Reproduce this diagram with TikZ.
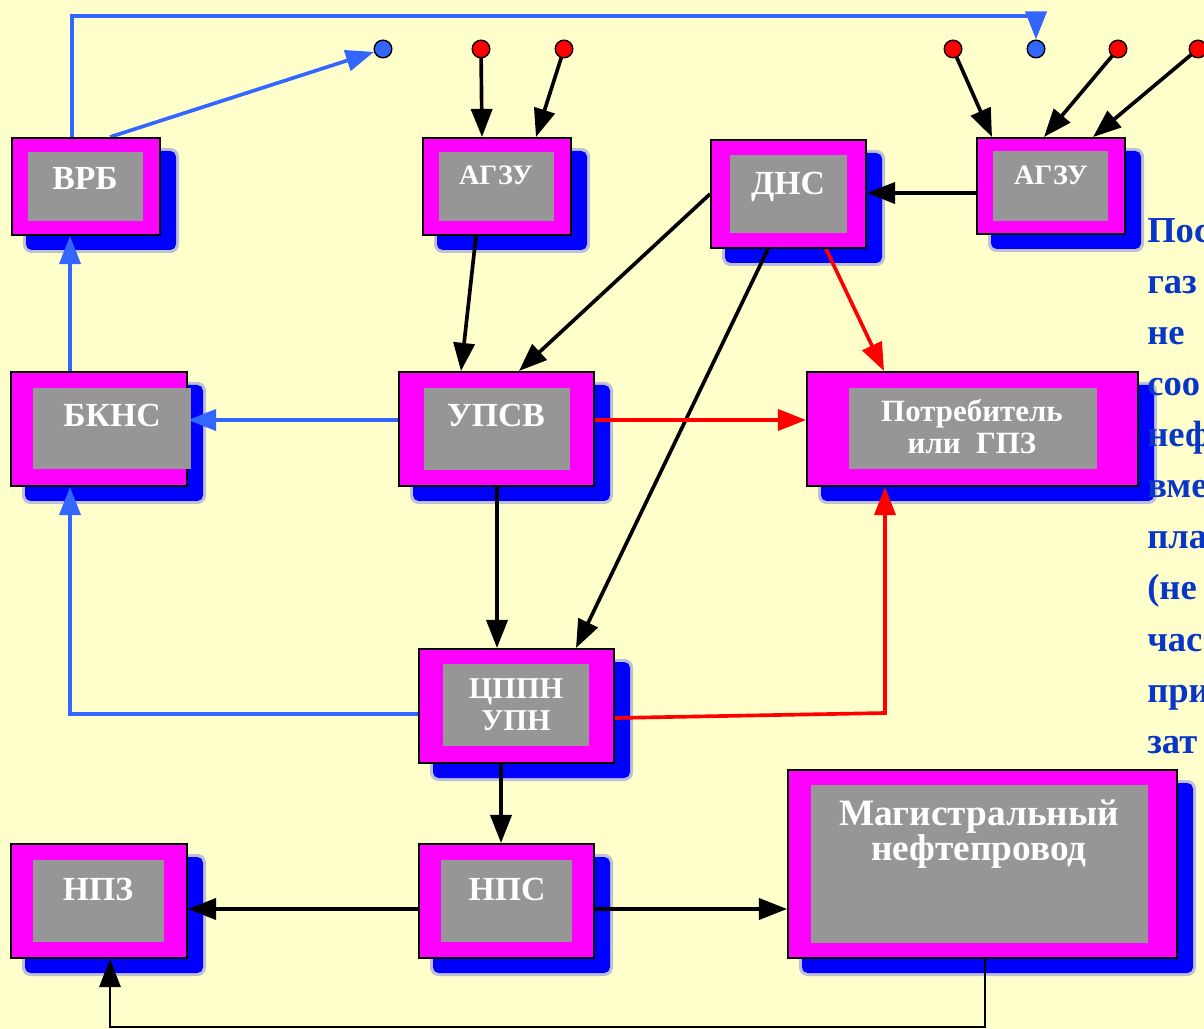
\documentclass[tikz,border=0pt]{standalone}
\usepackage{fontspec}
\setmainfont{Liberation Serif}
\usetikzlibrary{arrows.meta,fit}
\definecolor{bgc}{HTML}{FFFFCC}
\definecolor{magc}{HTML}{FF00FF}
\definecolor{grayc}{HTML}{969696}
\definecolor{shc}{HTML}{0000FF}
\definecolor{lblue}{HTML}{3366FF}
\definecolor{txtblue}{HTML}{0A36C8}
\pgfdeclarelayer{back}
\pgfdeclarelayer{mid}
\pgfsetlayers{back,mid,main}
\tikzset{
  outerbox/.style={draw=black, line width=1.4pt, fill=magc, inner sep=0pt},
  innerbox/.style={fill=grayc, inner sep=0pt},
  biglbl/.style={text=white, font=\bfseries\fontsize{24}{26}\selectfont, anchor=base, inner sep=0pt},
  smlbl/.style={text=white, font=\bfseries\fontsize{20}{22}\selectfont, anchor=base, inner sep=0pt},
  sidetxt/.style={text=txtblue, font=\bfseries\fontsize{26}{28}\selectfont, anchor=base west, inner sep=0pt},
  blkarr/.style={draw=black, line width=2.6pt, -{Triangle[length=20pt,width=15pt]}},
  bluarr/.style={draw=lblue, color=lblue, line width=2.6pt, -{Triangle[length=20pt,width=15pt]}},
  redarr/.style={draw=red, color=red, line width=2.6pt, -{Triangle[length=20pt,width=15pt]}},
  dotred/.style={circle, draw=black, line width=1pt, fill=red, minimum size=12.5pt, inner sep=0pt},
  dotblue/.style={circle, draw=black, line width=1pt, fill=lblue, minimum size=12.5pt, inner sep=0pt}
}
\begin{document}
\begin{tikzpicture}[x=0.025cm,y=-0.025cm]
\useasboundingbox (0,0) rectangle (1204,1029);
% background and shadows
\begin{pgfonlayer}{back}
  \fill[bgc] (0,0) rectangle (1204,1029);
  \foreach \a/\b/\c/\d in {12/138/160/235, 423/138/571/235, 711/140/866/248, 977/138/1125/234,
      11/372/187/486, 399/372/594/486, 807/372/1138/486, 419/649/614/763,
      11/844/187/958, 419/844/594/958, 788/770/1177/958} {
    \fill[shc, opacity=0.25, rounded corners=6pt] (\a+11,\b+10) rectangle (\c+19,\d+18);
    \fill[shc, rounded corners=4pt] (\a+14,\b+13) rectangle (\c+16,\d+15);
  }
\end{pgfonlayer}

% boxes
\foreach \n/\a/\b/\c/\d/\e/\f/\g/\h in {
    vrb/12/138/160/235/28/152/143/221,
    agzuA/423/138/571/235/439/152/554/221,
    dns/711/140/866/248/730/155/847/233,
    agzuB/977/138/1125/234/993/151/1108/221,
    bkns/11/372/187/486/33/388/191/469,
    upsv/399/372/594/486/424/388/570/470,
    potr/807/372/1138/486/849/388/1097/469,
    cppn/419/649/614/763/443/664/589/746,
    npz/11/844/187/958/33/860/164/942,
    nps/419/844/594/958/441/860/572/942,
    mag/788/770/1177/958/811/785/1148/943} {
  \node[outerbox, fit={(\a,\b) (\c,\d)}] (\n) {};
  \node[innerbox, fit={(\e,\f) (\g,\h)}] (\n-in) {};
}

% labels
\node[biglbl] (l-vrb) at (85,190) {ВРБ};
\node[smlbl] (l-agzuA) at (496,185) {АГЗУ};
\node[biglbl] (l-dns) at (788,195) {ДНС};
\node[smlbl] (l-agzuB) at (1051,185) {АГЗУ};
\node[biglbl] (l-bkns) at (112,427) {БКНС};
\node[biglbl] (l-upsv) at (496,427) {УПСВ};
\node[smlbl, font=\bfseries\fontsize{22}{24}\selectfont] (l-potr1) at (972,422) {Потребитель};
\node[smlbl, font=\bfseries\fontsize{22}{24}\selectfont] (l-potr2) at (972,454) {или~~ГПЗ};
\node[smlbl, font=\bfseries\fontsize{21.5}{24}\selectfont] (l-cppn1) at (516,698) {ЦППН};
\node[smlbl, font=\bfseries\fontsize{21.5}{24}\selectfont] (l-cppn2) at (516,730) {УПН};
\node[biglbl] (l-npz) at (98,900) {НПЗ};
\node[biglbl] (l-nps) at (507,900) {НПС};
\node[biglbl, font=\bfseries\fontsize{26.5}{28}\selectfont] (l-mag1) at (979,825) {Магистральный};
\node[biglbl, font=\bfseries\fontsize{26.5}{28}\selectfont] (l-mag2) at (979,860) {нефтепровод};

% dots
\node[dotblue] (bd1) at (383,49) {};
\node[dotred]  (rd1) at (481,49) {};
\node[dotred]  (rd2) at (564,49) {};
\node[dotred]  (rd3) at (953,49) {};
\node[dotblue] (bd2) at (1036,49) {};
\node[dotred]  (rd4) at (1118,49) {};
\node[dotred]  (rd5) at (1198,49) {};

% side text (cut off by the picture edge)
\node[sidetxt] (side0) at (1147,243) {Пос};
\node[sidetxt] (side1) at (1147,294) {газ};
\node[sidetxt] (side2) at (1147,345) {не};
\node[sidetxt] (side3) at (1147,396) {соо};
\node[sidetxt] (side4) at (1147,447) {неф};
\node[sidetxt] (side5) at (1147,498) {вме};
\node[sidetxt] (side6) at (1147,549) {пла};
\node[sidetxt] (side7) at (1147,600) {(не};
\node[sidetxt] (side8) at (1147,651) {час};
\node[sidetxt] (side9) at (1147,702) {при};
\node[sidetxt] (side10) at (1147,753) {зат};

% connectors
\begin{pgfonlayer}{mid}
  \draw[blkarr] (rd1.center) -- (agzuA.north -| 482,0);
  \draw[blkarr] (rd2.center) -- (agzuA.north -| 536,0);
  \draw[blkarr] (rd3.center) -- (agzuB.north -| 992,0);
  \draw[blkarr] (rd4.center) -- (agzuB.north -| 1044,0);
  \draw[blkarr] (rd5.center) -- (agzuB.north -| 1093,0);
  \draw[bluarr] (vrb.north -| 110,0) -- (bd1);
  \draw[bluarr] (vrb.north -| 72,0) -- (72,16) -- (1036,16) -- (bd2.north);
  \draw[blkarr] (agzuB.west |- 0,193) -- (dns.east |- 0,193);
  \draw[blkarr] (agzuA.south -| 476,0) -- (upsv.north -| 461,0);
  \draw[blkarr] (dns.west |- 0,194) -- (upsv.north -| 519,0);
  \draw[blkarr] (dns.south -| 768,0) -- (cppn.north -| 576,0);
  \draw[redarr] (dns.south -| 826,0) -- (potr.north -| 884,0);
  \draw[redarr] (upsv.east |- 0,420) -- (potr.west |- 0,420);
  \draw[bluarr] (upsv.west |- 0,420) -- (bkns.east |- 0,420);
  \draw[bluarr] (bkns.north -| 70,0) -- (vrb.south -| 70,0);
  \draw[bluarr] (cppn.west |- 0,714) -- (70,714) -- (bkns.south -| 70,0);
  \draw[blkarr] (upsv.south -| 497,0) -- (cppn.north -| 497,0);
  \draw[redarr] (cppn.east |- 0,718) -- (885,713) -- (potr.south -| 885,0);
  \draw[blkarr] (cppn.south -| 501,0) -- (nps.north -| 501,0);
  \draw[blkarr] (nps.west |- 0,909) -- (npz.east |- 0,909);
  \draw[blkarr] (nps.east |- 0,909) -- (mag.west |- 0,909);
  \draw[blkarr, line width=2pt] (mag.south -| 985,0) -- (985,1027) -- (110,1027) -- (npz.south -| 110,0);
\end{pgfonlayer}
\end{tikzpicture}
\end{document}
